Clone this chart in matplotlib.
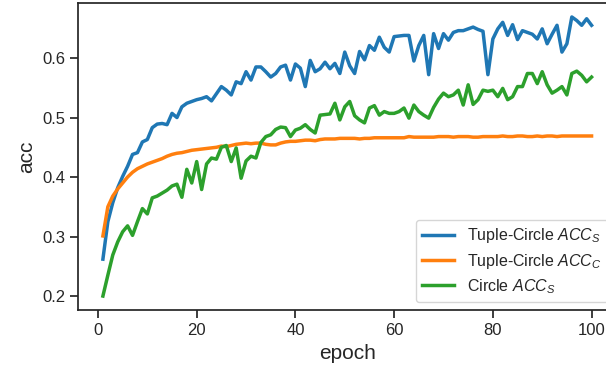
import numpy as np
import matplotlib
matplotlib.use("Agg")
import matplotlib.pyplot as plt

# ── Data ──────────────────────────────────────────────────────────────────────
epochs = np.arange(1, 101)

tuple_acc_s = [
    0.262, 0.325, 0.357, 0.382, 0.401, 0.418, 0.438, 0.441, 0.459, 0.463,
    0.483, 0.489, 0.490, 0.488, 0.507, 0.500, 0.518, 0.524, 0.527, 0.530,
    0.532, 0.535, 0.528, 0.540, 0.552, 0.546, 0.538, 0.560, 0.557, 0.577,
    0.563, 0.585, 0.585, 0.577, 0.568, 0.574, 0.585, 0.588, 0.563, 0.590,
    0.583, 0.552, 0.596, 0.577, 0.582, 0.593, 0.582, 0.591, 0.574, 0.610,
    0.587, 0.574, 0.611, 0.597, 0.621, 0.613, 0.635, 0.618, 0.610, 0.636,
    0.637, 0.638, 0.638, 0.595, 0.621, 0.638, 0.572, 0.641, 0.616, 0.641,
    0.630, 0.643, 0.646, 0.646, 0.649, 0.652, 0.648, 0.645, 0.572, 0.632,
    0.649, 0.660, 0.638, 0.656, 0.631, 0.646, 0.643, 0.640, 0.632, 0.649,
    0.624, 0.640, 0.655, 0.610, 0.624, 0.669, 0.663, 0.655, 0.666, 0.655,
]

tuple_acc_c = [
    0.301, 0.350, 0.368, 0.380, 0.390, 0.400, 0.408, 0.414, 0.418, 0.422,
    0.425, 0.428, 0.431, 0.435, 0.438, 0.440, 0.441, 0.443, 0.445, 0.446,
    0.447, 0.448, 0.449, 0.450, 0.452, 0.451, 0.453, 0.455, 0.456, 0.457,
    0.456, 0.457, 0.457, 0.455, 0.454, 0.454, 0.457, 0.459, 0.460, 0.460,
    0.461, 0.462, 0.462, 0.461, 0.463, 0.464, 0.464, 0.464, 0.465, 0.465,
    0.465, 0.465, 0.464, 0.465, 0.465, 0.466, 0.466, 0.466, 0.466, 0.466,
    0.466, 0.466, 0.468, 0.467, 0.467, 0.467, 0.467, 0.467, 0.468, 0.468,
    0.468, 0.467, 0.468, 0.468, 0.468, 0.467, 0.467, 0.468, 0.468, 0.468,
    0.468, 0.469, 0.468, 0.468, 0.469, 0.469, 0.468, 0.468, 0.469, 0.468,
    0.469, 0.469, 0.468, 0.469, 0.469, 0.469, 0.469, 0.469, 0.469, 0.469,
]

circle_acc_s = [
    0.200, 0.235, 0.269, 0.291, 0.308, 0.318, 0.302, 0.325, 0.347, 0.338,
    0.365, 0.368, 0.373, 0.378, 0.385, 0.388, 0.366, 0.413, 0.390, 0.426,
    0.379, 0.422, 0.432, 0.430, 0.450, 0.453, 0.426, 0.449, 0.398, 0.427,
    0.435, 0.432, 0.458, 0.468, 0.471, 0.480, 0.484, 0.483, 0.468, 0.479,
    0.482, 0.488, 0.480, 0.474, 0.504, 0.505, 0.506, 0.524, 0.496, 0.518,
    0.527, 0.503, 0.496, 0.491, 0.516, 0.520, 0.504, 0.510, 0.507, 0.507,
    0.510, 0.516, 0.499, 0.521, 0.510, 0.504, 0.499, 0.517, 0.531, 0.541,
    0.535, 0.538, 0.546, 0.521, 0.555, 0.522, 0.530, 0.546, 0.544, 0.546,
    0.535, 0.549, 0.530, 0.535, 0.552, 0.552, 0.574, 0.574, 0.557, 0.577,
    0.555, 0.541, 0.546, 0.552, 0.538, 0.574, 0.578, 0.571, 0.560, 0.568,
]

labels = [r"Tuple-Circle $ACC_S$", r"Tuple-Circle $ACC_C$", r"Circle $ACC_S$"]

# ── Style (seaborn "ticks"-like, set by hand) ─────────────────────────────────
plt.rcParams.update({
    "font.family": ["Liberation Sans", "DejaVu Sans"],
    "mathtext.fontset": "custom",
    "mathtext.it": "Liberation Sans:italic",
    "mathtext.rm": "Liberation Sans",
    "text.color": ".15",
    "axes.labelcolor": ".15",
    "axes.edgecolor": ".15",
    "axes.linewidth": 1.25,
    "xtick.color": ".15",
    "ytick.color": ".15",
    "xtick.major.size": 6,
    "ytick.major.size": 6,
    "xtick.major.width": 1.25,
    "ytick.major.width": 1.25,
    "xtick.labelsize": 12,
    "ytick.labelsize": 12,
    "axes.labelsize": 15,
    "legend.fontsize": 11.5,
})

fig = plt.figure(figsize=(6.06, 3.77), dpi=100)
# axes run a little past the right edge, like the cropped original
ax = fig.add_axes([0.1295, 0.1777, 0.887, 0.8143])

ax.plot(epochs, tuple_acc_s, color="tab:blue", lw=2.5, label=labels[0])
ax.plot(epochs, tuple_acc_c, color="tab:orange", lw=2.5, label=labels[1])
ax.plot(epochs, circle_acc_s, color="tab:green", lw=2.5, label=labels[2])

ax.set_xlabel("epoch")
ax.set_ylabel("acc")
ax.set_xticks([0, 20, 40, 60, 80, 100])
ax.set_yticks([0.2, 0.3, 0.4, 0.5, 0.6])
ax.legend(loc="lower right", handlelength=2.0, labelspacing=0.4)

plt.savefig("out.png", dpi=100)
plt.close()
